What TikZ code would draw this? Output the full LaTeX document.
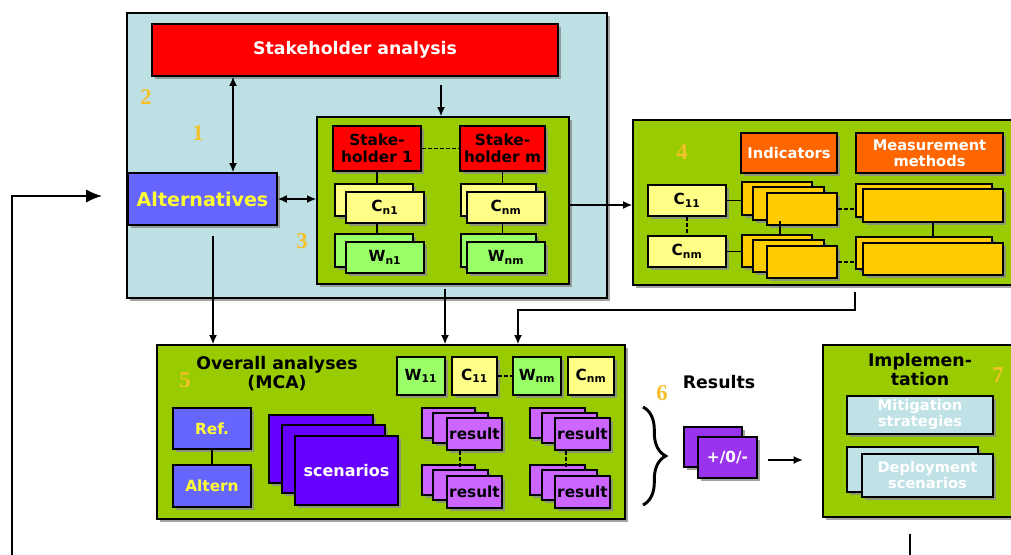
\documentclass[tikz,border=0pt]{standalone}
\usepackage{fontspec}
\setmainfont{DejaVu Sans}
\newfontfamily\numfont{Liberation Serif}
\usetikzlibrary{shadows,arrows.meta,decorations.pathreplacing}
\definecolor{bgblue}{HTML}{BCE0E3}
\definecolor{rred}{HTML}{FF0000}
\definecolor{lgreen}{HTML}{99CC00}
\definecolor{altblue}{HTML}{6666FF}
\definecolor{cyel}{HTML}{FFFF88}
\definecolor{wgreen}{HTML}{99FF66}
\definecolor{orng}{HTML}{FF6600}
\definecolor{gold}{HTML}{FFCC00}
\definecolor{scen}{HTML}{6600FF}
\definecolor{resv}{HTML}{CC66FF}
\definecolor{pmz}{HTML}{9933EE}
\definecolor{mitb}{HTML}{C0E2E6}
\definecolor{numc}{HTML}{F5C02A}
\definecolor{txtyel}{HTML}{FFFF33}
% box from pixel corners: style, name, x1, y1, x2, y2, text
\newcommand\bxn[7]{\node[bx,#1, minimum width={(#5-#3)*0.75pt}, minimum height={(#6-#4)*0.75pt}] (#2) at ({(#3+#5)/2},{(#4+#6)/2}) {#7};}
\tikzset{
  bx/.style={draw=black, line width=0.9pt, inner sep=0pt, align=center,
    drop shadow={shadow xshift=2pt, shadow yshift=-2pt, fill=black!45, opacity=0.8}},
  fA/.style={font=\bfseries\fontsize{13}{15}\selectfont},
  fAlt/.style={font=\bfseries\fontsize{14.3}{16}\selectfont},
  fB/.style={font=\bfseries\fontsize{11.5}{12.5}\selectfont},
  fE/.style={font=\bfseries\fontsize{11}{12}\selectfont},
  fC/.style={font=\bfseries\fontsize{13}{14}\selectfont},
  fS/.style={font=\bfseries\fontsize{12}{14}\selectfont},
  num/.style={font=\numfont\bfseries\fontsize{17}{17}\selectfont, text=numc, inner sep=0pt},
  arr/.style={line width=1.3pt, -{Latex[length=7pt,width=6pt]}},
  bigarr/.style={line width=1.3pt, -{Latex[length=12pt,width=10pt]}},
  dbl/.style={line width=1.3pt, {Latex[length=7pt,width=6pt]}-{Latex[length=7pt,width=6pt]}},
  ln/.style={line width=1pt},
  dln/.style={line width=1pt, dash pattern=on 3pt off 1.5pt},
}
\begin{document}
\begin{tikzpicture}[x=0.75pt,y=-0.75pt]
\useasboundingbox (0,0) rectangle (1011,554);
\fill[white] (0,0) rectangle (1011,554);

% ---- box 2 (stakeholder / alternatives) ----
\bxn{fill=bgblue}{b2}{127}{13}{607}{298}{}
\bxn{fill=rred, text=white, fA}{stk}{152}{24}{558}{76}{\raisebox{-1.5pt}{Stakeholder analysis}}
\bxn{fill=altblue, text=txtyel, fAlt}{alt}{128}{173}{277}{225}{Alternatives}
\node[num] (n2) at (146,97) {2};
\node[num] (n1) at (198,133) {1};

% ---- box 3 ----
\bxn{fill=lgreen}{b3}{317}{117}{569}{284}{}
\bxn{fill=rred, fB}{s1}{333}{126}{421}{171}{Stake-\\holder 1}
\bxn{fill=rred, fB}{sm}{460}{126}{545}{171}{Stake-\\holder m}
\bxn{fill=cyel}{cn1b}{335}{184}{413}{216}{}
\bxn{fill=cyel, fB}{cn1}{346}{192}{424}{223}{C\textsubscript{n1}}
\bxn{fill=cyel}{cnmb}{461}{184}{536}{216}{}
\bxn{fill=cyel, fB}{cnm}{467}{192}{545}{223}{C\textsubscript{nm}}
\bxn{fill=wgreen}{wn1b}{335}{234}{413}{267}{}
\bxn{fill=wgreen, fB}{wn1}{346}{242}{424}{273}{W\textsubscript{n1}}
\bxn{fill=wgreen}{wnmb}{461}{234}{536}{267}{}
\bxn{fill=wgreen, fB}{wnm}{467}{242}{545}{273}{W\textsubscript{nm}}
\node[num] (n3) at (302,241) {3};
\draw[dln] (s1.east) -- (sm.west);
\draw[ln] (s1.south) -- (s1.south |- cn1b.north);
\draw[ln] (sm.south) -- (sm.south |- cnmb.north);
\draw[ln] (s1.south |- cn1.south) -- (s1.south |- wn1b.north);
\draw[ln] (sm.south |- cnm.south) -- (sm.south |- wnmb.north);

% ---- box 4 ----
\bxn{fill=lgreen}{b4}{633}{120}{1014}{285}{}
\node[num] (n4) at (682,152) {4};
\bxn{fill=orng, text=white, fE}{ind}{741}{133}{837}{173}{Indicators}
\bxn{fill=orng, text=white, fE}{meas}{856}{133}{1003}{173}{Measurement\\methods}
\bxn{fill=cyel, fB}{c11}{648}{185}{726}{216}{C\textsubscript{11}}
\bxn{fill=cyel, fB}{cnm4}{648}{236}{726}{267}{C\textsubscript{nm}}
\bxn{fill=gold}{i1a}{742}{182}{812}{215}{}
\bxn{fill=gold}{i1b}{753}{187}{824}{220}{}
\bxn{fill=gold}{i1c}{767}{193}{837}{225}{}
\bxn{fill=gold}{i2a}{742}{235}{812}{267}{}
\bxn{fill=gold}{i2b}{753}{240}{824}{272}{}
\bxn{fill=gold}{i2c}{767}{246}{837}{278}{}
\bxn{fill=gold}{m1a}{856}{184}{992}{217}{}
\bxn{fill=gold}{m1b}{863}{189}{1003}{222}{}
\bxn{fill=gold}{m2a}{856}{237}{992}{269}{}
\bxn{fill=gold}{m2b}{863}{243}{1003}{275}{}
\draw[ln] (c11.east) -- (c11.east -| i1a.west);
\draw[ln] (cnm4.east) -- (cnm4.east -| i2a.west);
\draw[dln] (c11.south) -- (cnm4.north);
\draw[dln] (i1c.east) -- (i1c.east -| m1a.west);
\draw[dln] (i2c.east) -- (i2c.east -| m2a.west);
\coordinate (xi) at (780,0);
\coordinate (xm) at (933,0);
\draw[ln] (xi |- i1b.south) -- (xi |- i2a.north);
\draw[ln] (xm |- m1b.south) -- (xm |- m2a.north);

% ---- box 5 ----
\bxn{fill=lgreen}{b5}{157}{345}{625}{519}{}
\node[num] (n5) at (185,380) {5};
\node[fC] (oa) at (277,375) {\begin{tabular}{@{}c@{}}Overall analyses\\(MCA)\end{tabular}};
\bxn{fill=wgreen, fB}{w11}{397}{357}{445}{395}{W\textsubscript{11}}
\bxn{fill=cyel, fB}{c115}{452}{357}{497}{395}{C\textsubscript{11}}
\bxn{fill=wgreen, fB}{wnm5}{513}{357}{561}{395}{W\textsubscript{nm}}
\bxn{fill=cyel, fB}{cnm5}{568}{357}{614}{395}{C\textsubscript{nm}}
\draw[dln] (c115.east) -- (wnm5.west);
\bxn{fill=altblue, text=txtyel, fB}{ref}{173}{408}{251}{449}{Ref.}
\bxn{fill=altblue, text=txtyel, fB}{altn}{173}{465}{251}{507}{Altern}
\draw[ln] (ref.south) -- (altn.north);
\bxn{fill=scen}{sc1}{269}{415}{373}{483}{}
\bxn{fill=scen}{sc2}{282}{425}{385}{493}{}
\bxn{fill=scen, text=white, fS}{sc3}{295}{436}{398}{505}{scenarios}
% result stacks
\bxn{fill=resv}{r1a}{422}{408}{475}{438}{}
\bxn{fill=resv}{r1b}{433}{413}{488}{443}{}
\bxn{fill=resv, fB}{r1c}{447}{418}{502}{450}{result}
\bxn{fill=resv}{r2a}{422}{465}{475}{495}{}
\bxn{fill=resv}{r2b}{433}{470}{488}{500}{}
\bxn{fill=resv, fB}{r2c}{447}{476}{502}{508}{result}
\bxn{fill=resv}{r3a}{530}{408}{585}{438}{}
\bxn{fill=resv}{r3b}{542}{413}{597}{443}{}
\bxn{fill=resv, fB}{r3c}{555}{418}{610}{450}{result}
\bxn{fill=resv}{r4a}{530}{465}{585}{495}{}
\bxn{fill=resv}{r4b}{542}{470}{597}{500}{}
\bxn{fill=resv, fB}{r4c}{555}{476}{610}{508}{result}
\coordinate (xr1) at (460,0);
\coordinate (xr2) at (566,0);
\draw[dln] (xr1 |- r1c.south) -- (xr1 |- r2b.north);
\draw[dln] (xr2 |- r3c.south) -- (xr2 |- r4b.north);

% ---- results ----
\node[num] (n6) at (662,393) {6};
\node[fC] (res) at (719,382) {Results};
\coordinate (brT) at (643,407);
\coordinate (brB) at (643,505);
\draw[line width=2.2pt, decorate, decoration={brace, amplitude=17pt}] (brT) -- (brB);
\bxn{fill=pmz}{pm1}{684}{427}{742}{467}{}
\bxn{fill=pmz, text=white, fB}{pm2}{698}{437}{757}{478}{+/0/-}

% ---- box 7 ----
\bxn{fill=lgreen}{b7}{823}{345}{1014}{517}{}
\node[fC] (impl) at (920,372) {\begin{tabular}{@{}c@{}}Implemen-\\tation\end{tabular}};
\node[num] (n7) at (998,375) {7};
\bxn{fill=mitb, text=white, fE}{mit}{847}{396}{993}{434}{Mitigation\\strategies}
\bxn{fill=mitb}{dep1}{847}{447}{978}{492}{}
\bxn{fill=mitb, text=white, fE}{dep2}{862}{454}{993}{497}{Deployment\\scenarios}
\coordinate (pa) at (768,460);
\coordinate (pb) at (803,460);
\draw[arr] (pa) -- (pb);

% ---- connectors ----
\coordinate (xa) at (233,0);
\coordinate (xs) at (441,0);
\coordinate (y205) at (0,205);
\draw[dbl] (xa |- stk.south) -- (xa |- alt.north);
\draw[arr] ([yshift=-6pt]xs |- stk.south) -- (xs |- b3.north);
\draw[dbl] (alt.east) -- (alt.east -| b3.west);
\draw[arr] (b3.east |- y205) -- (b4.west |- y205);
\coordinate (xal) at (213,0);
\coordinate (xb3) at (445,0);
\draw[arr] ([yshift=-8pt]xal |- alt.south) -- (xal |- b5.north);
\draw[arr] ([yshift=-3pt]xb3 |- b3.south) -- (xb3 |- b5.north);
\coordinate (p1) at (855,310);
\coordinate (p2) at (518,310);
\draw[arr] ([yshift=-5pt]p1 |- b4.south) -- (p1) -- (p2) -- (p2 |- b5.north);
% feedback loop
\coordinate (lb) at (12,556);
\coordinate (lt) at (12,196);
\coordinate (le) at (102,196);
\draw[bigarr] (lb) -- (lt) -- (le);
\coordinate (x7) at (910,0);
\coordinate (x7b) at (910,556);
\draw[line width=1.3pt] ([yshift=-12pt]x7 |- b7.south) -- (x7b);
\end{tikzpicture}
\end{document}
